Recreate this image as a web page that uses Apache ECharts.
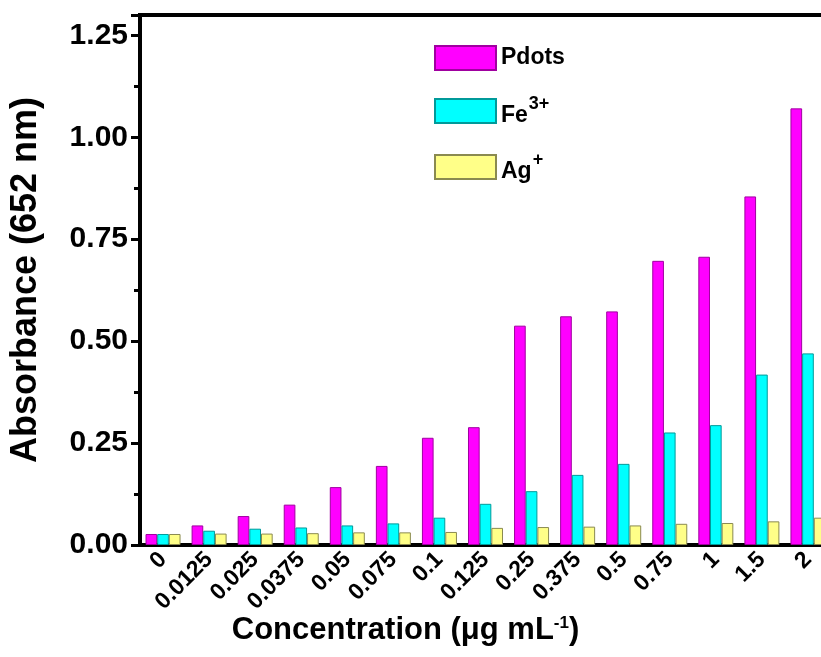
<!DOCTYPE html>
<html>
<head>
<meta charset="utf-8">
<script src="https://cdn.jsdelivr.net/npm/echarts@6/dist/echarts.min.js"></script>
<style>
html, body { margin: 0; padding: 0; background: #fff; }
#chart { width: 821px; height: 657px; }
</style>
</head>
<body>
<div id="chart"></div>
<script>
var categories = ['0', '0.0125', '0.025', '0.0375', '0.05', '0.075', '0.1', '0.125',
    '0.25', '0.375', '0.5', '0.75', '1', '1.5', '2'];
var pdots = [0.027, 0.048, 0.071, 0.099, 0.142, 0.194, 0.263, 0.289,
    0.538, 0.561, 0.573, 0.697, 0.707, 0.855, 1.071];
var fe = [0.027, 0.035, 0.040, 0.043, 0.048, 0.053, 0.067, 0.101,
    0.132, 0.172, 0.199, 0.276, 0.294, 0.418, 0.470];
var ag = [0.027, 0.028, 0.028, 0.029, 0.031, 0.031, 0.032, 0.042,
    0.044, 0.045, 0.048, 0.052, 0.054, 0.058, 0.067];

var font = '"Liberation Sans", Arial, sans-serif';
var myChart = echarts.init(document.getElementById('chart'));

var option = {
    backgroundColor: '#fff',
    animation: false,
    textStyle: { fontFamily: font },
    grid: {
        left: 140, top: 15, right: -10, bottom: 112,
        outerBoundsMode: 'none', containLabel: false,
        show: true, borderColor: '#000', borderWidth: 4
    },
    legend: {
        orient: 'vertical',
        left: 429, top: 40,
        itemWidth: 61, itemHeight: 24, itemGap: 24,
        icon: 'rect',
        formatter: function (name) {
            if (name === 'Fe3+') return '{b|Fe}{s|3+}';
            if (name === 'Ag+') return '{b|Ag}{s|+}';
            return '{b|' + name + '}';
        },
        textStyle: {
            rich: {
                b: { fontSize: 23, fontWeight: 'bold', color: '#000', fontFamily: font, verticalAlign: 'bottom' },
                s: { fontSize: 18, fontWeight: 'bold', color: '#000', fontFamily: font, verticalAlign: 'top', padding: [0, 0, 14, 1] }
            }
        }
    },
    xAxis: {
        type: 'category',
        data: categories,
        name: 'Concentration (\u03bcg mL{s|-1})',
        nameLocation: 'middle',
        nameGap: 70,
        nameMoveOverlap: false,
        nameTextStyle: {
            fontSize: 31, fontWeight: 'bold', color: '#000', fontFamily: font,
            padding: [0, 160, 0, 0],
            rich: {
                s: { fontSize: 17, fontWeight: 'bold', color: '#000', fontFamily: font, verticalAlign: 'top', padding: [0, 0, 14, 0] }
            }
        },
        axisLine: { lineStyle: { color: '#000', width: 4 } },
        axisTick: { show: false },
        axisLabel: {
            rotate: 45, interval: 0, margin: 11,
            fontSize: 23, fontWeight: 'bold', color: '#000', fontFamily: font
        }
    },
    yAxis: {
        type: 'value',
        min: 0, max: 1.3, interval: 0.25,
        name: 'Absorbance (652 nm)',
        nameLocation: 'middle',
        nameGap: 96,
        nameMoveOverlap: false,
        nameTextStyle: { fontSize: 36, fontWeight: 'bold', color: '#000', fontFamily: font },
        splitLine: { show: false },
        axisLine: { show: true, lineStyle: { color: '#000', width: 4 } },
        axisTick: { show: true, length: 9, lineStyle: { color: '#000', width: 3 } },
        minorTick: { show: true, splitNumber: 2, length: 6, lineStyle: { color: '#000', width: 3 } },
        axisLabel: {
            showMaxLabel: false, margin: 12,
            fontSize: 30, fontWeight: 'bold', color: '#000', fontFamily: font,
            formatter: function (v) { return v.toFixed(2); }
        }
    },
    series: [
        {
            name: 'Pdots', type: 'bar', data: pdots,
            barGap: '0%', barCategoryGap: '24%',
            itemStyle: { color: '#ff00ff', borderColor: '#a000a0', borderWidth: 1 }
        },
        {
            name: 'Fe3+', type: 'bar', data: fe,
            itemStyle: { color: '#00ffff', borderColor: '#009a9a', borderWidth: 1 }
        },
        {
            name: 'Ag+', type: 'bar', data: ag,
            itemStyle: { color: '#ffff88', borderColor: '#8a8a50', borderWidth: 1 }
        }
    ]
};
myChart.setOption(option);
</script>
</body>
</html>
